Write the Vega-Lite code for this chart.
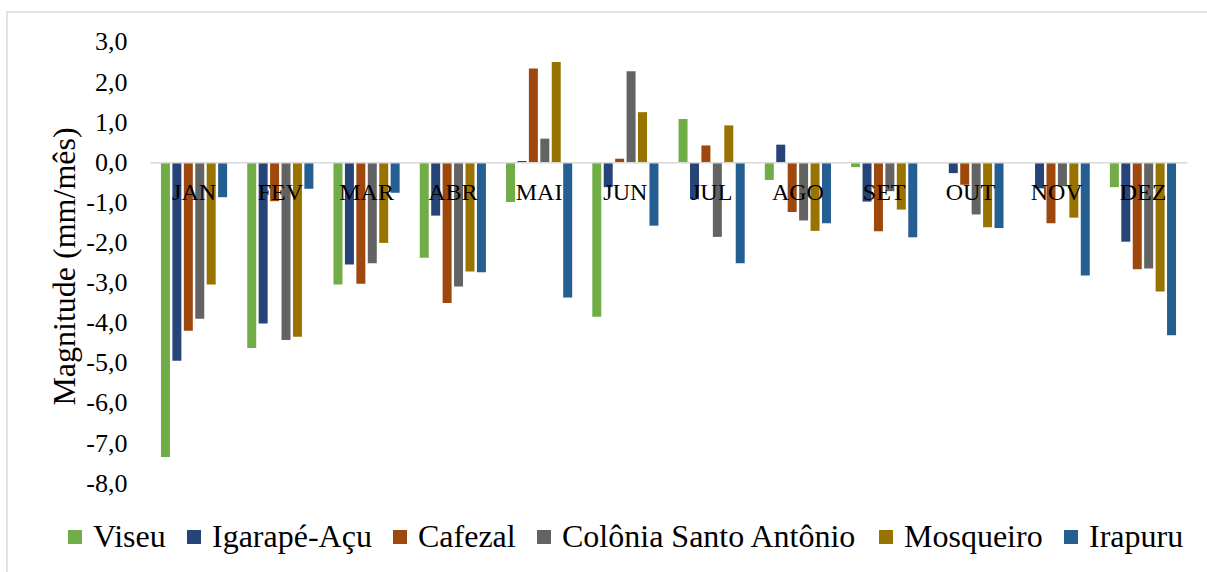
{
  "$schema": "https://vega.github.io/schema/vega-lite/v6.json",
  "width": 1210,
  "height": 570,
  "autosize": {"type": "none"},
  "padding": {"left": 7, "top": 12, "right": 0, "bottom": 0},
  "background": "white",
  "config": {
    "view": {"stroke": "#d9d9d9", "strokeWidth": 1.5},
    "font": "Liberation Serif",
    "axis": {"labelFont": "Liberation Serif", "titleFont": "Liberation Serif"},
    "legend": {"labelFont": "Liberation Serif", "titleFont": "Liberation Serif"}
  },
  "data": {
    "values": [
      {"month": "JAN", "station": "Viseu", "value": -7.35},
      {"month": "JAN", "station": "Igarapé-Açu", "value": -4.95},
      {"month": "JAN", "station": "Cafezal", "value": -4.2},
      {"month": "JAN", "station": "Colônia Santo Antônio", "value": -3.9},
      {"month": "JAN", "station": "Mosqueiro", "value": -3.05},
      {"month": "JAN", "station": "Irapuru", "value": -0.87},
      {"month": "FEV", "station": "Viseu", "value": -4.63},
      {"month": "FEV", "station": "Igarapé-Açu", "value": -4.02},
      {"month": "FEV", "station": "Cafezal", "value": -0.97},
      {"month": "FEV", "station": "Colônia Santo Antônio", "value": -4.43},
      {"month": "FEV", "station": "Mosqueiro", "value": -4.35},
      {"month": "FEV", "station": "Irapuru", "value": -0.66},
      {"month": "MAR", "station": "Viseu", "value": -3.05},
      {"month": "MAR", "station": "Igarapé-Açu", "value": -2.55},
      {"month": "MAR", "station": "Cafezal", "value": -3.03},
      {"month": "MAR", "station": "Colônia Santo Antônio", "value": -2.52},
      {"month": "MAR", "station": "Mosqueiro", "value": -2.01},
      {"month": "MAR", "station": "Irapuru", "value": -0.76},
      {"month": "ABR", "station": "Viseu", "value": -2.38},
      {"month": "ABR", "station": "Igarapé-Açu", "value": -1.33},
      {"month": "ABR", "station": "Cafezal", "value": -3.51},
      {"month": "ABR", "station": "Colônia Santo Antônio", "value": -3.1},
      {"month": "ABR", "station": "Mosqueiro", "value": -2.72},
      {"month": "ABR", "station": "Irapuru", "value": -2.74},
      {"month": "MAI", "station": "Viseu", "value": -0.99},
      {"month": "MAI", "station": "Igarapé-Açu", "value": 0.03},
      {"month": "MAI", "station": "Cafezal", "value": 2.34},
      {"month": "MAI", "station": "Colônia Santo Antônio", "value": 0.59},
      {"month": "MAI", "station": "Mosqueiro", "value": 2.5},
      {"month": "MAI", "station": "Irapuru", "value": -3.37},
      {"month": "JUN", "station": "Viseu", "value": -3.85},
      {"month": "JUN", "station": "Igarapé-Açu", "value": -0.62},
      {"month": "JUN", "station": "Cafezal", "value": 0.09},
      {"month": "JUN", "station": "Colônia Santo Antônio", "value": 2.27},
      {"month": "JUN", "station": "Mosqueiro", "value": 1.25},
      {"month": "JUN", "station": "Irapuru", "value": -1.58},
      {"month": "JUL", "station": "Viseu", "value": 1.08},
      {"month": "JUL", "station": "Igarapé-Açu", "value": -0.92},
      {"month": "JUL", "station": "Cafezal", "value": 0.42},
      {"month": "JUL", "station": "Colônia Santo Antônio", "value": -1.86},
      {"month": "JUL", "station": "Mosqueiro", "value": 0.92},
      {"month": "JUL", "station": "Irapuru", "value": -2.52},
      {"month": "AGO", "station": "Viseu", "value": -0.44},
      {"month": "AGO", "station": "Igarapé-Açu", "value": 0.44},
      {"month": "AGO", "station": "Cafezal", "value": -1.24},
      {"month": "AGO", "station": "Colônia Santo Antônio", "value": -1.45},
      {"month": "AGO", "station": "Mosqueiro", "value": -1.71},
      {"month": "AGO", "station": "Irapuru", "value": -1.52},
      {"month": "SET", "station": "Viseu", "value": -0.12},
      {"month": "SET", "station": "Igarapé-Açu", "value": -0.98},
      {"month": "SET", "station": "Cafezal", "value": -1.72},
      {"month": "SET", "station": "Colônia Santo Antônio", "value": -0.72},
      {"month": "SET", "station": "Mosqueiro", "value": -1.18},
      {"month": "SET", "station": "Irapuru", "value": -1.87},
      {"month": "OUT", "station": "Viseu", "value": 0},
      {"month": "OUT", "station": "Igarapé-Açu", "value": -0.27},
      {"month": "OUT", "station": "Cafezal", "value": -0.56},
      {"month": "OUT", "station": "Colônia Santo Antônio", "value": -1.3},
      {"month": "OUT", "station": "Mosqueiro", "value": -1.62},
      {"month": "OUT", "station": "Irapuru", "value": -1.64},
      {"month": "NOV", "station": "Viseu", "value": 0},
      {"month": "NOV", "station": "Igarapé-Açu", "value": -0.65},
      {"month": "NOV", "station": "Cafezal", "value": -1.52},
      {"month": "NOV", "station": "Colônia Santo Antônio", "value": -0.6},
      {"month": "NOV", "station": "Mosqueiro", "value": -1.38},
      {"month": "NOV", "station": "Irapuru", "value": -2.82},
      {"month": "DEZ", "station": "Viseu", "value": -0.62},
      {"month": "DEZ", "station": "Igarapé-Açu", "value": -1.98},
      {"month": "DEZ", "station": "Cafezal", "value": -2.67},
      {"month": "DEZ", "station": "Colônia Santo Antônio", "value": -2.65},
      {"month": "DEZ", "station": "Mosqueiro", "value": -3.22},
      {"month": "DEZ", "station": "Irapuru", "value": -4.31}
    ]
  },
  "mark": {"type": "bar"},
  "encoding": {
    "x": {
      "field": "month",
      "type": "nominal",
      "sort": ["JAN", "FEV", "MAR", "ABR", "MAI", "JUN", "JUL", "AGO", "SET", "OUT", "NOV", "DEZ"],
      "scale": {"range": [143, 1180], "paddingInner": 0.233, "paddingOuter": 0.127},
      "axis": {
        "orient": "bottom",
        "offset": -419.7,
        "title": null,
        "ticks": false,
        "tickSize": 0,
        "grid": false,
        "labelPadding": 37,
        "labelBaseline": "alphabetic",
        "labelFont": "Liberation Serif",
        "labelFontSize": 24,
        "labelColor": "#000000",
        "labelAngle": 0,
        "domainColor": "#d9d9d9",
        "domainWidth": 1.5,
        "zindex": 1
      }
    },
    "xOffset": {
      "field": "station",
      "type": "nominal",
      "sort": ["Viseu", "Igarapé-Açu", "Cafezal", "Colônia Santo Antônio", "Mosqueiro", "Irapuru"],
      "scale": {"paddingInner": 0.214, "paddingOuter": 0}
    },
    "y": {
      "field": "value",
      "type": "quantitative",
      "scale": {"domain": [-10.466, 3.748], "nice": false},
      "axis": {
        "values": [-8, -7, -6, -5, -4, -3, -2, -1, 0, 1, 2, 3],
        "offset": -143,
        "domain": false,
        "ticks": false,
        "tickSize": 0,
        "grid": false,
        "labelPadding": 23,
        "labelFont": "Liberation Serif",
        "labelFontSize": 26,
        "labelColor": "#000000",
        "labelExpr": "replace(replace(format(datum.value, '.1f'), '.', ','), '−', '-')",
        "title": "Magnitude (mm/mês)",
        "titleFont": "Liberation Serif",
        "titleFontSize": 32,
        "titleFontWeight": "normal",
        "titleColor": "#000000",
        "titleX": -69,
        "titleY": 254
      }
    },
    "y2": {"datum": 0},
    "color": {
      "field": "station",
      "type": "nominal",
      "scale": {
        "domain": ["Viseu", "Igarapé-Açu", "Cafezal", "Colônia Santo Antônio", "Mosqueiro", "Irapuru"],
        "range": ["#70AD47", "#264478", "#9E480E", "#636363", "#997300", "#255E91"]
      },
      "legend": {
        "orient": "none",
        "legendX": 52,
        "legendY": 509,
        "direction": "horizontal",
        "columns": 6,
        "title": null,
        "symbolType": "square",
        "symbolSize": 196,
        "symbolStrokeWidth": 0,
        "symbolOpacity": 1,
        "labelFont": "Liberation Serif",
        "labelFontSize": 32,
        "labelColor": "#000000",
        "labelLimit": 1000,
        "labelOffset": 2,
        "columnPadding": 12,
        "padding": 0
      }
    }
  }
}
